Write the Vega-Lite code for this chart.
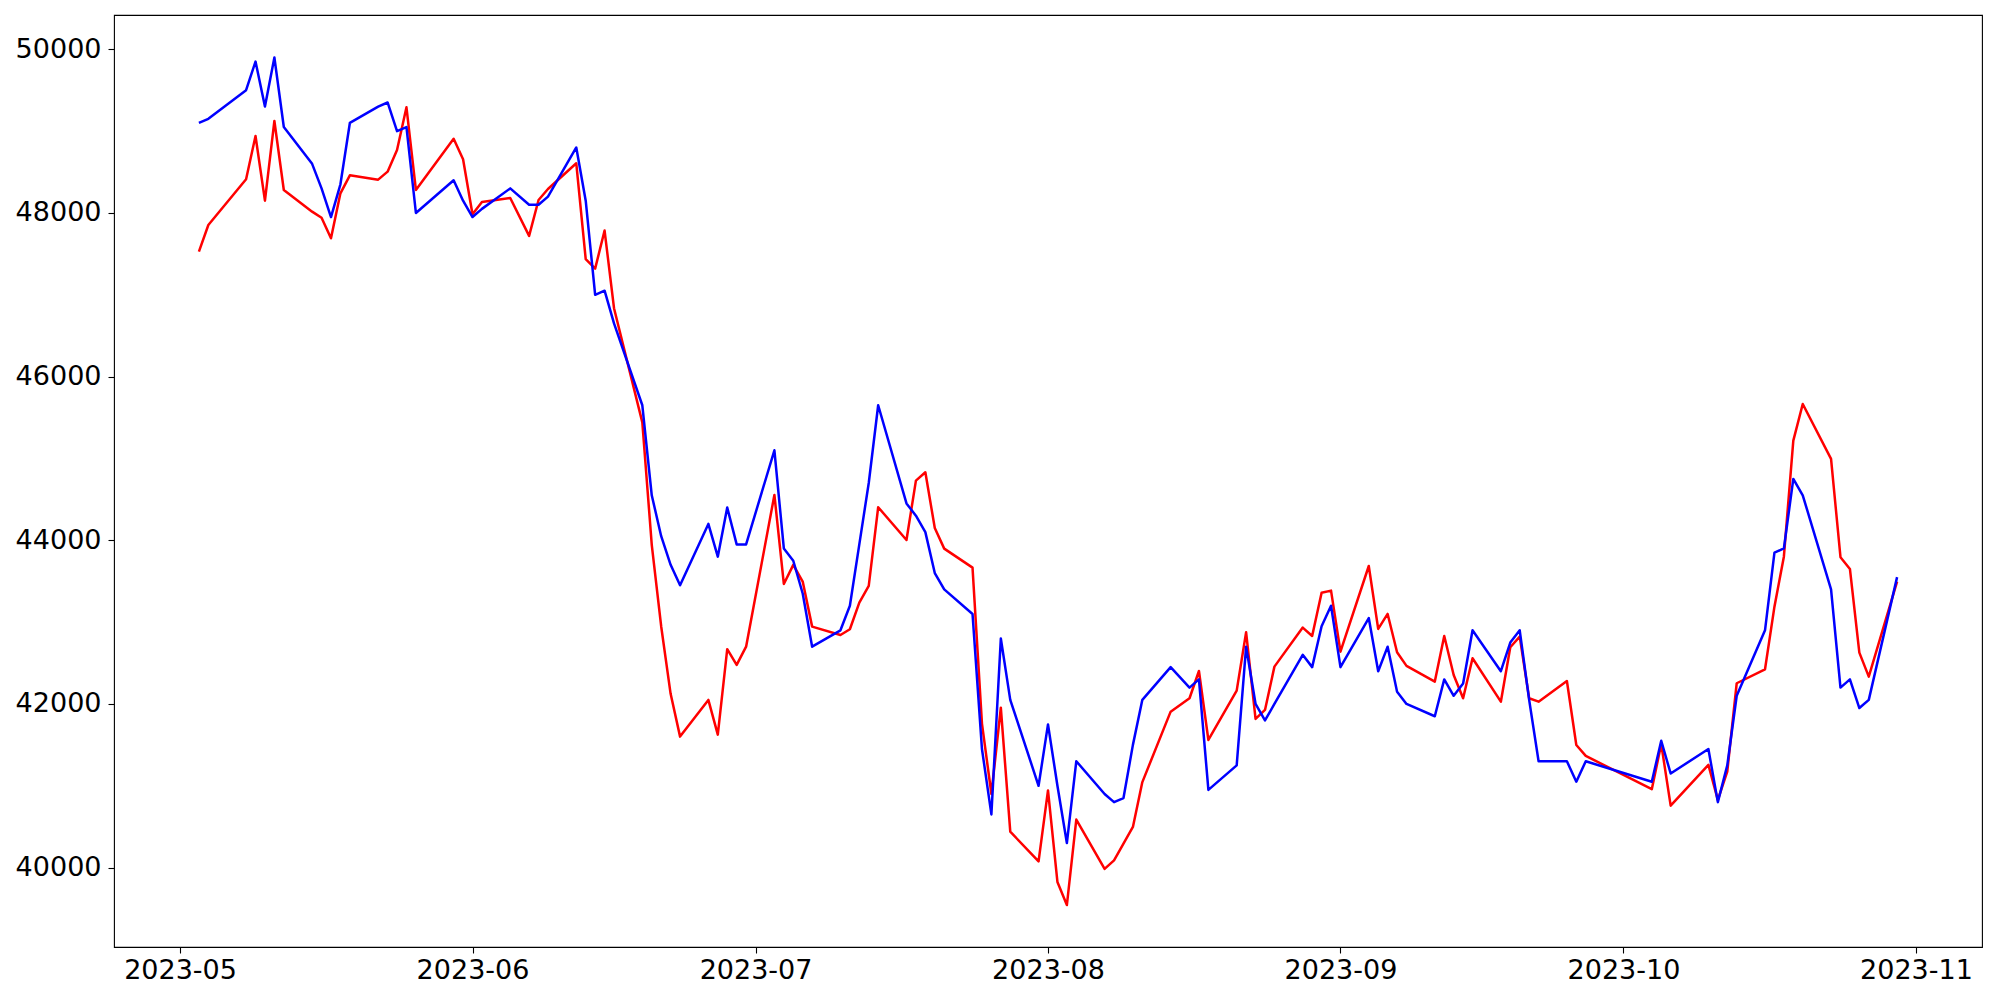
{
  "$schema": "https://vega.github.io/schema/vega-lite/v6.json",
  "autosize": {"type": "none"},
  "width": 1868,
  "height": 932,
  "padding": {"left": 114, "top": 15, "right": 18, "bottom": 53},
  "background": "white",
  "config": {
    "view": {"stroke": "black", "strokeWidth": 1.1},
    "axis": {
      "grid": false,
      "domain": false,
      "labelFont": "DejaVu Sans",
      "labelFontSize": 27,
      "labelColor": "black",
      "tickColor": "black",
      "tickSize": 6,
      "tickWidth": 1.1,
      "title": null
    }
  },
  "data": {
    "values": [
      {"date": "2023-05-03", "red": 47527, "blue": 49100},
      {"date": "2023-05-04", "red": 47853, "blue": 49150},
      {"date": "2023-05-08", "red": 48411, "blue": 49500},
      {"date": "2023-05-09", "red": 48941, "blue": 49850},
      {"date": "2023-05-10", "red": 48150, "blue": 49300},
      {"date": "2023-05-11", "red": 49124, "blue": 49900},
      {"date": "2023-05-12", "red": 48281, "blue": 49050},
      {"date": "2023-05-15", "red": 48016, "blue": 48600},
      {"date": "2023-05-16", "red": 47942, "blue": 48300},
      {"date": "2023-05-17", "red": 47691, "blue": 47950},
      {"date": "2023-05-18", "red": 48240, "blue": 48350},
      {"date": "2023-05-19", "red": 48460, "blue": 49100},
      {"date": "2023-05-22", "red": 48407, "blue": 49300},
      {"date": "2023-05-23", "red": 48505, "blue": 49350},
      {"date": "2023-05-24", "red": 48770, "blue": 49000},
      {"date": "2023-05-25", "red": 49291, "blue": 49050},
      {"date": "2023-05-26", "red": 48281, "blue": 48000},
      {"date": "2023-05-30", "red": 48906, "blue": 48400},
      {"date": "2023-05-31", "red": 48657, "blue": 48150},
      {"date": "2023-06-01", "red": 47984, "blue": 47950},
      {"date": "2023-06-02", "red": 48134, "blue": 48050},
      {"date": "2023-06-05", "red": 48183, "blue": 48300},
      {"date": "2023-06-07", "red": 47720, "blue": 48100},
      {"date": "2023-06-08", "red": 48159, "blue": 48100},
      {"date": "2023-06-09", "red": 48293, "blue": 48200},
      {"date": "2023-06-12", "red": 48607, "blue": 48800},
      {"date": "2023-06-13", "red": 47435, "blue": 48150},
      {"date": "2023-06-14", "red": 47320, "blue": 47000},
      {"date": "2023-06-15", "red": 47785, "blue": 47050},
      {"date": "2023-06-16", "red": 46836, "blue": 46650},
      {"date": "2023-06-19", "red": 45441, "blue": 45650},
      {"date": "2023-06-20", "red": 43944, "blue": 44550},
      {"date": "2023-06-21", "red": 42947, "blue": 44050},
      {"date": "2023-06-22", "red": 42124, "blue": 43700},
      {"date": "2023-06-23", "red": 41601, "blue": 43450},
      {"date": "2023-06-26", "red": 42049, "blue": 44200},
      {"date": "2023-06-27", "red": 41625, "blue": 43800},
      {"date": "2023-06-28", "red": 42669, "blue": 44400},
      {"date": "2023-06-29", "red": 42477, "blue": 43950},
      {"date": "2023-06-30", "red": 42700, "blue": 43950},
      {"date": "2023-07-03", "red": 44554, "blue": 45100},
      {"date": "2023-07-04", "red": 43466, "blue": 43900},
      {"date": "2023-07-05", "red": 43699, "blue": 43750},
      {"date": "2023-07-06", "red": 43495, "blue": 43350},
      {"date": "2023-07-07", "red": 42945, "blue": 42700},
      {"date": "2023-07-10", "red": 42843, "blue": 42900},
      {"date": "2023-07-11", "red": 42913, "blue": 43200},
      {"date": "2023-07-12", "red": 43238, "blue": 43950},
      {"date": "2023-07-13", "red": 43442, "blue": 44700},
      {"date": "2023-07-14", "red": 44404, "blue": 45650},
      {"date": "2023-07-17", "red": 44004, "blue": 44450},
      {"date": "2023-07-18", "red": 44729, "blue": 44300},
      {"date": "2023-07-19", "red": 44831, "blue": 44100},
      {"date": "2023-07-20", "red": 44150, "blue": 43600},
      {"date": "2023-07-21", "red": 43898, "blue": 43400},
      {"date": "2023-07-24", "red": 43666, "blue": 43100},
      {"date": "2023-07-25", "red": 41760, "blue": 41450},
      {"date": "2023-07-26", "red": 40900, "blue": 40650},
      {"date": "2023-07-27", "red": 41954, "blue": 42800},
      {"date": "2023-07-28", "red": 40439, "blue": 42050},
      {"date": "2023-07-31", "red": 40077, "blue": 41000},
      {"date": "2023-08-01", "red": 40943, "blue": 41750},
      {"date": "2023-08-02", "red": 39825, "blue": 41000},
      {"date": "2023-08-03", "red": 39543, "blue": 40300},
      {"date": "2023-08-04", "red": 40587, "blue": 41300},
      {"date": "2023-08-07", "red": 39984, "blue": 40900},
      {"date": "2023-08-08", "red": 40089, "blue": 40800},
      {"date": "2023-08-09", "red": 40292, "blue": 40850},
      {"date": "2023-08-10", "red": 40497, "blue": 41500},
      {"date": "2023-08-11", "red": 41045, "blue": 42050},
      {"date": "2023-08-14", "red": 41906, "blue": 42450},
      {"date": "2023-08-16", "red": 42070, "blue": 42200},
      {"date": "2023-08-17", "red": 42403, "blue": 42300},
      {"date": "2023-08-18", "red": 41560, "blue": 40950},
      {"date": "2023-08-21", "red": 42163, "blue": 41250},
      {"date": "2023-08-22", "red": 42876, "blue": 42700},
      {"date": "2023-08-23", "red": 41817, "blue": 42000},
      {"date": "2023-08-24", "red": 41927, "blue": 41800},
      {"date": "2023-08-25", "red": 42456, "blue": 42000},
      {"date": "2023-08-28", "red": 42933, "blue": 42600},
      {"date": "2023-08-29", "red": 42831, "blue": 42450},
      {"date": "2023-08-30", "red": 43360, "blue": 42950},
      {"date": "2023-08-31", "red": 43385, "blue": 43200},
      {"date": "2023-09-01", "red": 42639, "blue": 42450},
      {"date": "2023-09-04", "red": 43686, "blue": 43050},
      {"date": "2023-09-05", "red": 42917, "blue": 42400},
      {"date": "2023-09-06", "red": 43100, "blue": 42700},
      {"date": "2023-09-07", "red": 42632, "blue": 42150},
      {"date": "2023-09-08", "red": 42465, "blue": 42000},
      {"date": "2023-09-11", "red": 42273, "blue": 41850},
      {"date": "2023-09-12", "red": 42831, "blue": 42300},
      {"date": "2023-09-13", "red": 42354, "blue": 42100},
      {"date": "2023-09-14", "red": 42070, "blue": 42250},
      {"date": "2023-09-15", "red": 42558, "blue": 42900},
      {"date": "2023-09-18", "red": 42028, "blue": 42400},
      {"date": "2023-09-19", "red": 42693, "blue": 42750},
      {"date": "2023-09-20", "red": 42823, "blue": 42900},
      {"date": "2023-09-21", "red": 42070, "blue": 42050},
      {"date": "2023-09-22", "red": 42028, "blue": 41300},
      {"date": "2023-09-25", "red": 42281, "blue": 41300},
      {"date": "2023-09-26", "red": 41499, "blue": 41050},
      {"date": "2023-09-27", "red": 41365, "blue": 41300},
      {"date": "2023-10-04", "red": 40958, "blue": 41050},
      {"date": "2023-10-05", "red": 41511, "blue": 41550},
      {"date": "2023-10-06", "red": 40757, "blue": 41150},
      {"date": "2023-10-10", "red": 41255, "blue": 41450},
      {"date": "2023-10-11", "red": 40827, "blue": 40800},
      {"date": "2023-10-12", "red": 41173, "blue": 41250},
      {"date": "2023-10-13", "red": 42253, "blue": 42100},
      {"date": "2023-10-16", "red": 42424, "blue": 42900},
      {"date": "2023-10-17", "red": 43189, "blue": 43850},
      {"date": "2023-10-18", "red": 43800, "blue": 43900},
      {"date": "2023-10-19", "red": 45218, "blue": 44750},
      {"date": "2023-10-20", "red": 45666, "blue": 44550},
      {"date": "2023-10-23", "red": 44994, "blue": 43400},
      {"date": "2023-10-24", "red": 43793, "blue": 42200},
      {"date": "2023-10-25", "red": 43650, "blue": 42300},
      {"date": "2023-10-26", "red": 42627, "blue": 41950},
      {"date": "2023-10-27", "red": 42334, "blue": 42050},
      {"date": "2023-10-30", "red": 43495, "blue": 43550}
    ]
  },
  "encoding": {
    "x": {
      "field": "date",
      "type": "temporal",
      "scale": {
        "type": "utc",
        "domain": [
          {"year": 2023, "month": 4, "date": 24, "utc": true},
          {"year": 2023, "month": 11, "date": 8, "utc": true}
        ],
        "nice": false
      },
      "axis": {
        "values": [
          {"year": 2023, "month": 5, "date": 1, "utc": true},
          {"year": 2023, "month": 6, "date": 1, "utc": true},
          {"year": 2023, "month": 7, "date": 1, "utc": true},
          {"year": 2023, "month": 8, "date": 1, "utc": true},
          {"year": 2023, "month": 9, "date": 1, "utc": true},
          {"year": 2023, "month": 10, "date": 1, "utc": true},
          {"year": 2023, "month": 11, "date": 1, "utc": true}
        ],
        "format": "%Y-%m",
        "labelPadding": 4,
        "labelFlush": false,
        "labelOverlap": false
      }
    }
  },
  "layer": [
    {
      "mark": {"type": "line", "color": "#ff0000", "strokeWidth": 2.5, "strokeJoin": "round"},
      "encoding": {
        "y": {
          "field": "red",
          "type": "quantitative",
          "scale": {"domain": [39030, 50419], "nice": false, "zero": false},
          "axis": {
            "values": [40000, 42000, 44000, 46000, 48000, 50000],
            "format": "d",
            "labelPadding": 7
          }
        }
      }
    },
    {
      "mark": {"type": "line", "color": "#0000ff", "strokeWidth": 2.5, "strokeJoin": "round"},
      "encoding": {
        "y": {"field": "blue", "type": "quantitative"}
      }
    }
  ]
}
